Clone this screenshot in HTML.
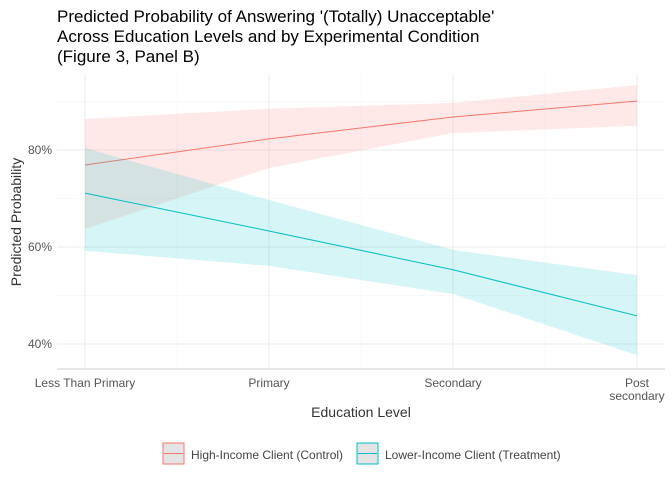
<!DOCTYPE html>
<html><head><meta charset="utf-8"><style>
body{margin:0;background:#fff;font-family:"Liberation Sans",sans-serif}
</style></head><body>
<svg id="c" width="672" height="480" xmlns="http://www.w3.org/2000/svg" font-family="Liberation Sans, sans-serif">
<text x="57" y="22" font-size="17" fill="#000">Predicted Probability of Answering '(Totally) Unacceptable'</text>
<text x="57" y="42" font-size="17" fill="#000">Across Education Levels and by Experimental Condition</text>
<text x="57" y="62" font-size="17" fill="#000">(Figure 3, Panel B)</text>
<g id="grid"></g>
<g id="marks"></g>
<text x="361" y="417" font-size="14" fill="#333" text-anchor="middle">Education Level</text>
<text transform="translate(21,222) rotate(-90)" font-size="14" fill="#333" text-anchor="middle">Predicted Probability</text>
<g>
<g>
<rect x="163" y="443" width="21" height="21" fill="#e4e4e4" stroke="#F8766D" stroke-width="1"/>
<line x1="164" y1="453.5" x2="183" y2="453.5" stroke="#F8766D"/>
<text x="191" y="459" font-size="12" fill="#444">High-Income Client (Control)</text></g>
<g>
<rect x="357" y="443" width="21" height="21" fill="#e4e4e4" stroke="#00BFC4" stroke-width="1"/>
<line x1="358" y1="453.5" x2="377" y2="453.5" stroke="#00BFC4"/>
<text x="385" y="459" font-size="12" fill="#444">Lower-Income Client (Treatment)</text></g>
</g>
</svg>
<script>
const categories=["Less Than Primary","Primary","Secondary","Post secondary"];
const controlFit=[76.9,82.3,86.8,90.1];
const controlLo=[63.7,76.3,83.5,85.0];
const controlHi=[86.4,88.5,89.7,93.4];
const treatFit=[71.1,63.3,55.3,45.8];
const treatLo=[59.2,56.1,50.3,37.7];
const treatHi=[80.4,69.7,59.4,54.2];
const yTicks=[40,60,80];
const yMinor=[50,70,90];
const NS="http://www.w3.org/2000/svg";
const x=i=>85+i*184;
const y=v=>150+(80-v)*4.85;
function mk(tag,attrs,parent){const e=document.createElementNS(NS,tag);for(const k in attrs)e.setAttribute(k,attrs[k]);parent.appendChild(e);return e;}
const grid=document.getElementById('grid'),marks=document.getElementById('marks');
const L=57,R=665,T=75,B=369;
yMinor.forEach(v=>{const l=mk('line',{x1:L,x2:R,y1:y(v),y2:y(v),stroke:'#f3f3f3','stroke-width':0.6},grid);

});
for(let i=0;i<3;i++){const xm=(x(i)+x(i+1))/2;const l=mk('line',{x1:xm,x2:xm,y1:T,y2:B,stroke:'#f3f3f3','stroke-width':0.6},grid);

}
yTicks.forEach(v=>{const l=mk('line',{x1:L,x2:R,y1:y(v),y2:y(v),stroke:'#ebebeb','stroke-width':1},grid);


const t=mk('text',{x:52,y:y(v)+4,'font-size':12,fill:'#555','text-anchor':'end'},grid);t.textContent=v+'%';

});
categories.forEach((c,i)=>{const l=mk('line',{x1:x(i),x2:x(i),y1:T,y2:B,stroke:'#ebebeb','stroke-width':1},grid);


const t=mk('text',{x:x(i),y:387,'font-size':12,fill:'#555','text-anchor':'middle'},grid);


if(c==="Post secondary"){t.textContent="Post";const t2=mk('text',{x:x(i),y:400,'font-size':12,fill:'#555','text-anchor':'middle'},grid);t2.textContent="secondary";

}else t.textContent=c;});
const ax=mk('line',{x1:L,x2:R,y1:B,y2:B,stroke:'#cccccc'},grid);


function series(fit,lo,hi,col,fill,name){
 let d=hi.map((v,i)=>(i?'L':'M')+x(i)+','+y(v)).join('')+lo.map((v,i)=>i).reverse().map(i=>'L'+x(i)+','+y(lo[i])).join('')+'Z';
 const b=mk('path',{d:d,fill:fill,'fill-opacity':0.16},marks);
 
 
 const p=mk('path',{d:fit.map((v,i)=>(i?'L':'M')+x(i)+','+y(v)).join(''),fill:'none',stroke:col,'stroke-width':1},marks);
 
 
}
series(controlFit,controlLo,controlHi,'#F8766D','#F8766D','control');
series(treatFit,treatLo,treatHi,'#00BFC4','#00BFC4','treatment');
</script>
</body></html>
